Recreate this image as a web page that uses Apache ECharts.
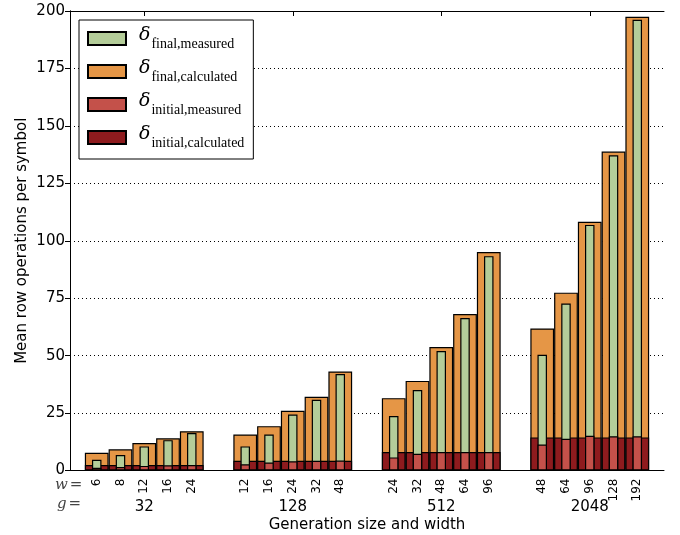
<!DOCTYPE html>
<html>
<head>
<meta charset="utf-8">
<script src="https://cdn.jsdelivr.net/npm/echarts@6/dist/echarts.min.js"></script>
<style>
  html, body { margin: 0; padding: 0; background: #fff; }
  #chart { width: 680px; height: 535px; }
</style>
</head>
<body>
<div id="chart"></div>
<script>
// generation sizes (g) and widths (w) per group
var groups = ['32', '128', '512', '2048'];
var widths = [
  ['6', '8', '12', '16', '24'],
  ['12', '16', '24', '32', '48'],
  ['24', '32', '48', '64', '96'],
  ['48', '64', '96', '128', '192']
];

// mean row operations per symbol
var finalMeasured = [
  [4.7, 6.75, 10.5, 13.2, 16.3],
  [10.5, 15.7, 24.4, 30.8, 42.0],
  [23.7, 35.0, 52.0, 66.4, 93.3],
  [50.4, 72.7, 106.9, 137.2, 196.2]
];
var finalCalculated = [
  [7.75, 9.2, 12.0, 14.0, 17.1],
  [15.7, 19.3, 26.0, 32.1, 43.1],
  [31.5, 39.0, 53.7, 68.1, 95.1],
  [61.8, 77.4, 108.3, 138.8, 197.5]
];
var initialMeasured = [
  [1.2, 1.5, 2.0, 2.3, 2.4],
  [2.7, 3.5, 4.0, 4.2, 4.3],
  [5.7, 7.3, 8.0, 8.0, 8.0],
  [11.3, 13.8, 15.1, 14.9, 14.9]
];
var initialCalculated = [
  [2.4, 2.4, 2.4, 2.4, 2.4],
  [4.2, 4.2, 4.2, 4.2, 4.2],
  [8.0, 8.0, 8.0, 8.0, 8.0],
  [14.4, 14.4, 14.4, 14.4, 14.4]
];

// x layout: each bar takes 1 unit, groups start every 6.25 units
function barX(i, j) { return 0.625 + i * 6.25 + j + 0.5; }
function groupX(i) { return 0.625 + i * 6.25 + 2.5; }

var barCenters = [], groupCenters = [], labelMap = {}, groupMap = {};
groups.forEach(function (g, i) {
  groupCenters.push(groupX(i));
  groupMap[groupX(i).toFixed(3)] = g;
  widths[i].forEach(function (w, j) {
    barCenters.push(barX(i, j));
    labelMap[barX(i, j).toFixed(3)] = w;
  });
});

function toPoints(arr) {
  var out = [];
  arr.forEach(function (row, i) {
    row.forEach(function (v, j) { out.push([barX(i, j), v]); });
  });
  return out;
}

var border = { borderColor: '#000', borderWidth: 1.2 };
var font = 'DejaVu Sans';
var eqRich = {
  i: { fontFamily: 'DejaVu Serif', fontStyle: 'italic', fontSize: 15, fill: '#444' },
  e: { fontFamily: 'DejaVu Serif', fontSize: 15, fill: '#444', padding: [0, 0, 0, 2] }
};

var option = {
  animation: false,
  backgroundColor: '#fff',
  textStyle: { fontFamily: font, color: '#000' },
  grid: { left: 70, top: 11, width: 594, height: 459.5, outerBoundsMode: 'none', containLabel: false },
  legend: {
    orient: 'vertical',
    left: 79,
    top: 20,
    padding: [6, 9, 9, 8],
    itemGap: 8,
    itemWidth: 38,
    itemHeight: 13,
    icon: 'rect',
    backgroundColor: '#fff',
    borderColor: '#000',
    borderWidth: 1,
    borderRadius: 0,
    data: ['final,measured', 'final,calculated', 'initial,measured', 'initial,calculated'],
    formatter: function (name) { return '{d|δ}{s|' + name + '}'; },
    textStyle: {
      padding: [0, 0, 0, 8],
      rich: {
        d: { fontFamily: 'DejaVu Serif', fontStyle: 'italic', fontSize: 19, color: '#000',
             verticalAlign: 'bottom', padding: [0, 1, 6, 0] },
        s: { fontFamily: 'Liberation Serif', fontSize: 14, color: '#000', verticalAlign: 'bottom',
             lineHeight: 24 }
      }
    }
  },
  xAxis: [
    {
      type: 'value', min: 0, max: 25, position: 'bottom',
      axisLine: { lineStyle: { color: '#000', width: 1 } },
      axisTick: { show: true, inside: true, length: 5, customValues: groupCenters,
                  lineStyle: { color: '#000' } },
      axisLabel: {
        customValues: barCenters, rotate: 90, fontSize: 12, margin: 8, color: '#000',
        formatter: function (v) { return labelMap[v.toFixed(3)] || ''; }
      },
      splitLine: { show: false }
    },
    { type: 'value', min: 0, max: 25, show: false },
    {
      type: 'value', min: 0, max: 25, position: 'bottom',
      axisLine: { show: false }, axisTick: { show: false }, splitLine: { show: false },
      axisLabel: {
        customValues: groupCenters, fontSize: 15, margin: 29, color: '#000',
        formatter: function (v) { return groupMap[v.toFixed(3)] || ''; }
      },
      name: 'Generation size and width', nameLocation: 'middle', nameGap: 47,
      nameMoveOverlap: false,
      nameTextStyle: { fontSize: 15, color: '#000' }
    },
    {
      type: 'value', min: 0, max: 25, position: 'top',
      axisLine: { lineStyle: { color: '#000', width: 1 } },
      axisTick: { show: true, inside: true, length: 5, customValues: groupCenters,
                  lineStyle: { color: '#000' } },
      axisLabel: { show: false }, splitLine: { show: false }
    }
  ],
  yAxis: [
    {
      type: 'value', min: 0, max: 200, interval: 25, position: 'left',
      axisLine: { show: true, lineStyle: { color: '#000', width: 1 } },
      axisTick: { show: true, inside: false, length: 4, lineStyle: { color: '#000' } },
      axisLabel: { fontSize: 15, margin: 5, color: '#000' },
      splitLine: { show: true, lineStyle: { color: '#000', type: [1, 3], width: 1 } },
      name: 'Mean row operations per symbol', nameLocation: 'middle', nameGap: 40,
      nameMoveOverlap: false,
      nameTextStyle: { fontSize: 15, color: '#000' }
    },
    {
      type: 'value', min: 0, max: 200, interval: 25, position: 'right',
      axisLine: { show: true, lineStyle: { color: '#000', width: 1 } },
      axisTick: { show: true, inside: true, length: 5, lineStyle: { color: '#000' } },
      axisLabel: { show: false }, splitLine: { show: false }
    }
  ],
  series: [
    {
      name: 'final,calculated', type: 'bar', xAxisIndex: 0, yAxisIndex: 0,
      barWidth: 23.76, barGap: '-100%', z: 2,
      itemStyle: Object.assign({ color: '#e59646' }, border),
      data: toPoints(finalCalculated)
    },
    {
      name: 'initial,calculated', type: 'bar', xAxisIndex: 0, yAxisIndex: 0,
      barWidth: 23.76, barGap: '-100%', z: 3,
      itemStyle: Object.assign({ color: '#8e1b1e' }, border),
      data: toPoints(initialCalculated)
    },
    {
      name: 'final,measured', type: 'bar', xAxisIndex: 1, yAxisIndex: 0,
      barWidth: 9.5, barGap: '-100%', z: 4,
      itemStyle: Object.assign({ color: '#b4cd99' }, border),
      data: toPoints(finalMeasured)
    },
    {
      name: 'initial,measured', type: 'bar', xAxisIndex: 1, yAxisIndex: 0,
      barWidth: 9.5, barGap: '-100%', z: 5,
      itemStyle: Object.assign({ color: '#c4514a' }, border),
      data: toPoints(initialMeasured)
    }
  ],
  graphic: [
    { type: 'text', left: 55, top: 478, style: { text: '{i|w}{e|=}', rich: eqRich } },
    { type: 'text', left: 57, top: 497, style: { text: '{i|g}{e|=}', rich: eqRich } }
  ]
};

var myChart = echarts.init(document.getElementById('chart'));
myChart.setOption(option, true);
</script>
</body>
</html>
